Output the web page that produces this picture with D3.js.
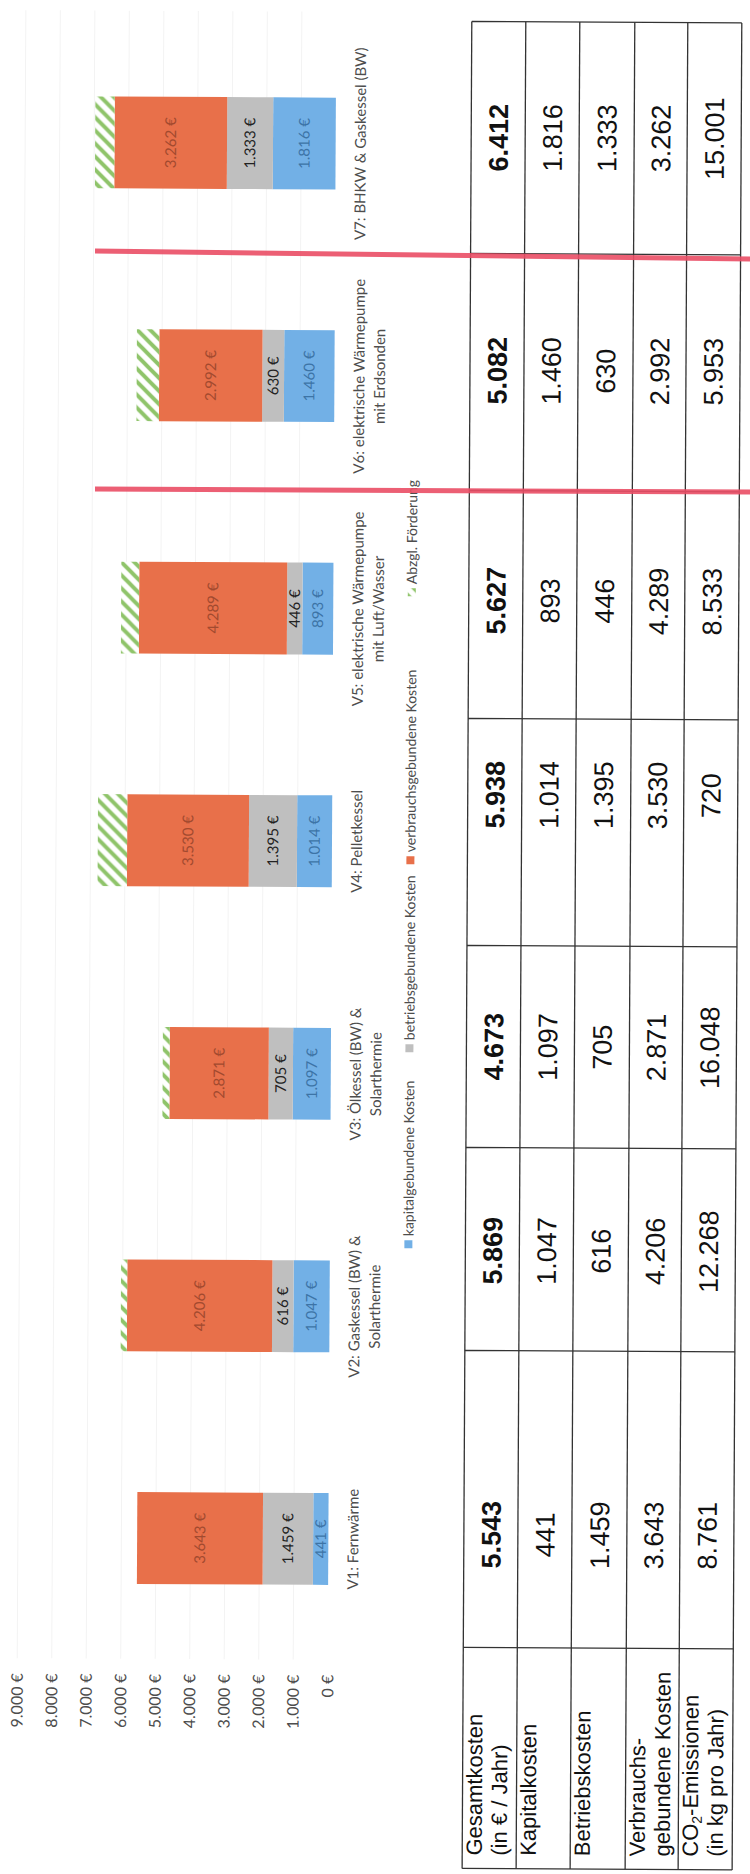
<!DOCTYPE html>
<html lang="de">
<head>
<meta charset="UTF-8">
<title>Kostenvergleich Heizungsvarianten</title>
<script src="https://d3js.org/d3.v7.min.js"></script>
<style>
  body { margin: 0; background: #fff; }
  svg { display: block; }
</style>
</head>
<body>
<div class="main"></div>
<script>
  // ---- data ----
  const variants = ["V1", "V2", "V3", "V4", "V5", "V6", "V7"];
  const variantLabels = [
    ["V1: Fernwärme"],
    ["V2: Gaskessel (BW) &", "Solarthermie"],
    ["V3: Ölkessel (BW) &", "Solarthermie"],
    ["V4: Pelletkessel"],
    ["V5: elektrische Wärmepumpe", "mit Luft/Wasser"],
    ["V6: elektrische Wärmepumpe", "mit Erdsonden"],
    ["V7: BHKW & Gaskessel (BW)"]
  ];
  const kapital    = [441, 1047, 1097, 1014, 893, 1460, 1816];
  const betrieb    = [1459, 616, 705, 1395, 446, 630, 1333];
  const verbrauch  = [3643, 4206, 2871, 3530, 4289, 2992, 3262];
  const foerderung = [0, 180, 200, 850, 520, 650, 560];   // hatched part, estimated
  const gesamt     = [5543, 5869, 4673, 5938, 5627, 5082, 6412];
  const co2        = [8761, 12268, 16048, 720, 8533, 5953, 15001];

  const yTicks = [0, 1000, 2000, 3000, 4000, 5000, 6000, 7000, 8000, 9000];
  const yTickLabels = ["0 €", "1.000 €", "2.000 €", "3.000 €", "4.000 €", "5.000 €",
                       "6.000 €", "7.000 €", "8.000 €", "9.000 €"];

  const seriesKeys  = ["kapital", "betrieb", "verbrauch", "foerderung"];
  const seriesNames = ["kapitalgebundene Kosten", "betriebsgebundene Kosten",
                       "verbrauchsgebundene Kosten", "Abzgl. Förderung"];

  const rowLabels = [
    ["Gesamtkosten", "(in € / Jahr)"],
    ["Kapitalkosten"],
    ["Betriebskosten"],
    ["Verbrauchs-", "gebundene Kosten"],
    ["CO2-Emissionen", "(in kg pro Jahr)"]
  ];
  const tableRows = [gesamt, kapital, betrieb, verbrauch, co2];

  // ---- layout (page is turned, so these are along the long side) ----
  const W = 750, H = 1874;
  const legendMarkers = [630, 826, 1014, 1282];
  const rowEdges = [467, 521, 575, 630, 683, 737];
  const tableLeft = 6;
  const colEdges = [227, 524, 727, 929, 1156, 1384, 1621, 1853];
  const valueCenters = [340, 624, 828, 1080, 1274, 1504, 1737];

  const colors = { kapital: "#72b0e6", betrieb: "#bfbfbf", verbrauch: "#e8704a", foerderung: "url(#hatch)" };
  const labelColors = { kapital: "#3d74a6", betrieb: "#222", verbrauch: "#a24a2f" };
  const chartFont = "Lato, 'Open Sans', sans-serif";
  const tableFont = "'Liberation Sans', Arial, sans-serif";

  const de = d3.formatLocale({ decimal: ",", thousands: ".", grouping: [3], currency: ["", " €"] });
  const fmt = de.format(",");

  const svg = d3.select(".main").append("svg")
          .attr("width", W)
          .attr("height", H);

  const defs = svg.append("defs");
  const hatch = defs.append("pattern")
          .attr("id", "hatch")
          .attr("patternUnits", "userSpaceOnUse")
          .attr("width", 13).attr("height", 13);
  hatch.append("rect").attr("width", 13).attr("height", 13).attr("fill", "#fff");
  hatch.append("path")
          .attr("d", "M0,13 L13,0 M-4,4 L4,-4 M9,17 L17,9")
          .attr("stroke", "#8fc46a")
          .attr("stroke-width", 4);

  // the scan is slightly tilted and the whole page is turned by 90 degrees
  const page = svg.append("g").attr("transform", "rotate(0.3,375,937)");
  const g = page.append("g").attr("transform", `translate(0,${H}) rotate(-90)`);

  // ---- scales ----
  const x = d3.scaleBand()
          .domain(variants)
          .range([218.5, 1846.5])
          .paddingInner(0.605)
          .paddingOuter(0.3025);

  const y = d3.scaleLinear()
          .domain([0, 9000])
          .range([331.5, 21]);

  // faint gridlines
  g.append("g").selectAll("line")
          .data(yTicks.slice(1))
          .join("line")
          .attr("x1", 214).attr("x2", 1862)
          .attr("y1", d => y(d)).attr("y2", d => y(d))
          .attr("stroke", "#f3f3f3");

  // value axis
  const yAxis = d3.axisLeft(y)
          .tickValues(yTicks)
          .tickFormat((d, i) => yTickLabels[i])
          .tickSize(0)
          .tickPadding(6);

  g.append("g")
          .attr("transform", "translate(205,0)")
          .call(yAxis)
          .call(a => a.select(".domain").remove())
          .selectAll("text")
          .style("font-family", chartFont)
          .style("font-size", "16px")
          .attr("fill", "#4d4d4d");

  // ---- stacked bars ----
  const rows = variants.map((v, i) => ({
    key: v,
    kapital: kapital[i],
    betrieb: betrieb[i],
    verbrauch: verbrauch[i],
    foerderung: foerderung[i]
  }));
  const stacked = d3.stack().keys(seriesKeys)(rows);

  const layer = g.append("g").selectAll("g")
          .data(stacked)
          .join("g")
          .attr("fill", d => colors[d.key]);

  layer.selectAll("rect")
          .data(d => d)
          .join("rect")
          .attr("x", d => x(d.data.key))
          .attr("y", d => y(d[1]))
          .attr("width", x.bandwidth())
          .attr("height", d => y(d[0]) - y(d[1]));

  // value labels inside the segments
  const labelLayers = stacked.filter(s => s.key !== "foerderung");
  g.append("g").selectAll("g")
          .data(labelLayers)
          .join("g")
          .attr("fill", d => labelColors[d.key])
          .selectAll("text")
          .data(d => d)
          .join("text")
          .attr("x", d => x(d.data.key) + x.bandwidth() / 2)
          .attr("y", d => (y(d[0]) + y(d[1])) / 2)
          .attr("dy", "0.35em")
          .attr("text-anchor", "middle")
          .style("font-family", chartFont)
          .style("font-size", "15px")
          .text(d => fmt(d[1] - d[0]) + " €");

  // category labels
  const catG = g.append("g").selectAll("text")
          .data(variants)
          .join("text")
          .attr("text-anchor", "middle")
          .attr("fill", "#4d4d4d")
          .style("font-family", chartFont)
          .style("font-size", "15px");
  catG.selectAll("tspan")
          .data((d, i) => variantLabels[i].map(t => ({ t, v: d })))
          .join("tspan")
          .attr("x", d => x(d.v) + x.bandwidth() / 2)
          .attr("y", (d, j) => 361.5 + j * 20.5)
          .text(d => d.t);

  // ---- legend ----
  const legendItems = g.append("g").selectAll("g")
          .data(seriesKeys)
          .join("g")
          .attr("transform", (d, i) => `translate(${legendMarkers[i]},0)`);
  legendItems.append("rect")
          .attr("x", -4).attr("y", 406)
          .attr("width", 8).attr("height", 8)
          .attr("fill", d => colors[d]);
  legendItems.append("text")
          .attr("x", 8)
          .attr("y", 415)
          .attr("fill", "#4d4d4d")
          .style("font-family", chartFont)
          .style("font-size", "14px")
          .text((d, i) => seriesNames[i]);

  // ---- table ----
  const tableRight = colEdges[colEdges.length - 1];
  const tg = g.append("g");
  tg.selectAll("line.h")
          .data(rowEdges)
          .join("line")
          .attr("class", "h")
          .attr("x1", tableLeft).attr("x2", tableRight)
          .attr("y1", d => d).attr("y2", d => d)
          .attr("stroke", "#333").attr("stroke-width", 1.3);
  tg.selectAll("line.v")
          .data([tableLeft].concat(colEdges))
          .join("line")
          .attr("class", "v")
          .attr("x1", d => d).attr("x2", d => d)
          .attr("y1", rowEdges[0]).attr("y2", rowEdges[rowEdges.length - 1])
          .attr("stroke", "#333").attr("stroke-width", 1.3);

  // row labels
  const rl = tg.selectAll("text.rl")
          .data(rowLabels)
          .join("text")
          .attr("class", "rl")
          .attr("fill", "#111")
          .style("font-family", tableFont)
          .style("font-size", "22px");
  rl.each(function (lines, r) {
    const t = d3.select(this);
    lines.forEach((line, j) => {
      const yy = rowEdges[r] + 19.5 + j * 25;
      if (line.startsWith("CO2")) {
        const tx = t.append("tspan").attr("x", 19).attr("y", yy);
        tx.append("tspan").text("CO");
        tx.append("tspan").attr("dy", 4).style("font-size", "14px").text("2");
        tx.append("tspan").attr("dy", -4).text(line.slice(3));
      } else {
        t.append("tspan").attr("x", 19).attr("y", yy).text(line);
      }
    });
  });

  // table values
  tableRows.forEach((vals, r) => {
    tg.append("g").selectAll("text")
            .data(vals)
            .join("text")
            .attr("x", (d, i) => valueCenters[i])
            .attr("y", (rowEdges[r] + rowEdges[r + 1]) / 2 + 9.7)
            .attr("text-anchor", "middle")
            .attr("fill", "#111")
            .style("font-family", tableFont)
            .style("font-size", "27px")
            .style("font-weight", r === 0 ? "bold" : "normal")
            .text(d => fmt(d));
  });

  // red marker lines drawn on the print around V6
  const redLines = [[[95, 251], [750, 259]], [[95, 489], [750, 492]]];
  svg.append("g").selectAll("line")
          .data(redLines)
          .join("line")
          .attr("x1", d => d[0][0]).attr("y1", d => d[0][1])
          .attr("x2", d => d[1][0]).attr("y2", d => d[1][1])
          .attr("stroke", "#ea4e66")
          .attr("stroke-width", 5)
          .attr("opacity", 0.9);
</script>
</body>
</html>
